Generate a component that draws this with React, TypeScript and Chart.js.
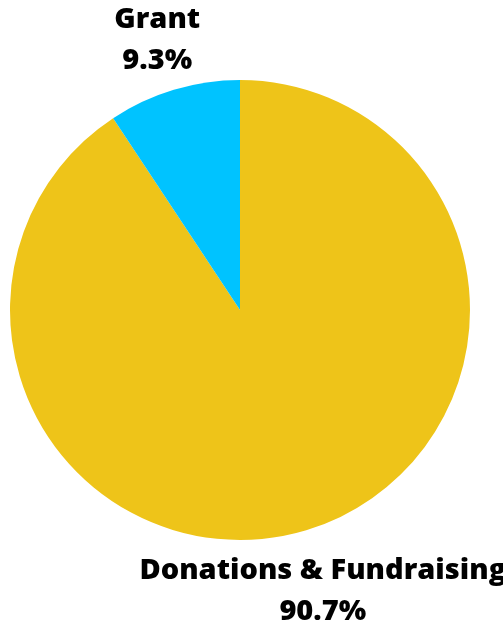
import React, { useEffect, useRef } from "react";
import { Chart, registerables } from "chart.js";

Chart.register(...registerables);

const categories = ["Donations & Fundraising", "Grant"];
const values = [90.7, 9.3];
const percentLabels = ["90.7%", "9.3%"];
const colors = ["#EEC419", "#00C3FF"];

const labelPlugin = {
  id: "outerLabels",
  afterDatasetsDraw(chart: any) {
    const { ctx } = chart;
    const meta = chart.getDatasetMeta(0);
    ctx.save();
    ctx.fillStyle = "#000000";
    ctx.font = "800 29px 'Open Sans'";
    ctx.textAlign = "center";
    ctx.textBaseline = "middle";
    meta.data.forEach((arc: any, i: number) => {
      const { x, y, startAngle, endAngle, outerRadius } = arc.getProps(
        ["x", "y", "startAngle", "endAngle", "outerRadius"],
        true
      );
      const mid = (startAngle + endAngle) / 2;
      const d = outerRadius * 1.25;
      const cx = x + Math.cos(mid) * d;
      const cy = y + Math.sin(mid) * d + 6;
      const lh = 41;
      ctx.fillText(categories[i], cx, cy - lh / 2);
      ctx.fillText(percentLabels[i], cx, cy + lh / 2);
    });
    ctx.restore();
  },
};

export default function App() {
  const ref = useRef<HTMLCanvasElement>(null);
  useEffect(() => {
    if (!ref.current) return;
    const chart = new Chart(ref.current, {
      type: "pie",
      data: {
        labels: categories,
        datasets: [
          {
            data: values,
            backgroundColor: colors,
            borderWidth: 0,
          },
        ],
      },
      options: {
        animation: false,
        responsive: true,
        maintainAspectRatio: false,
        layout: { padding: { left: 10, right: 33, top: 80, bottom: 88 } },
        plugins: {
          legend: { display: false },
          tooltip: { enabled: false },
        },
      },
      plugins: [labelPlugin],
    });
    return () => chart.destroy();
  }, []);
  return (
    <div style={{ position: "absolute", left: 0, top: 0, width: 503, height: 628, background: "#ffffff" }}>
      <canvas ref={ref} />
    </div>
  );
}
